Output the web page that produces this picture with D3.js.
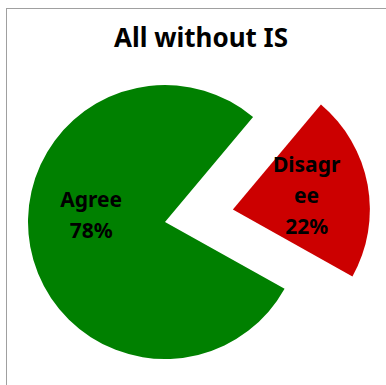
<!DOCTYPE html>
<html>
<head>
<meta charset="utf-8">
<script src="https://cdn.jsdelivr.net/npm/d3@7"></script>
<style>
  html, body { margin: 0; padding: 0; background: #fff; }
  svg { display: block; }
</style>
</head>
<body>
<div class="containers"></div>
<script>
const categories = ['Agree', 'Disagree']
const shares = [78, 22]
const colors = ['#008000', '#cc0000']
const title = 'All without IS'

const width = 386
const height = 385
const radius = 137
const cx = 165
const cy = 222
const explode = { Agree: 0, Disagree: 69 }
const labelNudge = { Agree: -20, Disagree: 0 } // excel puts the green label a bit higher
const font = '"Noto Sans", "Open Sans", sans-serif'

const data = categories.map((c, i) => ({ name: c, value: shares[i], color: colors[i] }))

const svg = d3
  .select('.containers')
  .append('svg')
  .attr('width', width)
  .attr('height', height)

// chart frame
svg
  .append('rect')
  .attr('x', 6.5)
  .attr('y', 8.5)
  .attr('width', 420)
  .attr('height', 420)
  .attr('fill', '#fff')
  .attr('stroke', '#a0a0a0')
  .attr('stroke-width', 1)

svg
  .append('text')
  .attr('x', 201)
  .attr('y', 47)
  .attr('text-anchor', 'middle')
  .attr('font-family', font)
  .attr('font-weight', 'bold')
  .attr('font-size', 26)
  .attr('fill', '#000')
  .text(title)

const startAngle = (119.2 * Math.PI) / 180
const pie = d3
  .pie()
  .sort(null)
  .value(d => d.value)
  .startAngle(startAngle)
  .endAngle(startAngle + 2 * Math.PI)

const arcs = pie(data)
const arc = d3.arc().innerRadius(0).outerRadius(radius)
const labelArc = d3.arc().innerRadius(75).outerRadius(75)

const offset = d => {
  const mid = (d.startAngle + d.endAngle) / 2
  const e = explode[d.data.name]
  return [Math.sin(mid) * e, -Math.cos(mid) * e]
}

const g = svg
  .append('g')
  .attr('transform', `translate(${cx},${cy})`)
  .selectAll('g')
  .data(arcs)
  .join('g')
  .attr('transform', d => `translate(${offset(d)})`)

g
  .append('path')
  .attr('d', arc)
  .attr('fill', d => d.data.color)

// excel wraps the long category name inside the slice
const wrap = (s, n) => {
  const out = []
  for (let i = 0; i < s.length; i += n) out.push(s.slice(i, i + n))
  return out
}

const lineH = 31
g
  .append('text')
  .attr('text-anchor', 'middle')
  .attr('font-family', font)
  .attr('font-weight', 'bold')
  .attr('font-size', 21)
  .attr('fill', '#000')
  .each(function (d) {
    const lines = wrap(d.data.name, 6).concat([d.data.value + '%'])
    const [x, y] = labelArc.centroid(d)
    const y0 = y + labelNudge[d.data.name] - ((lines.length - 1) * lineH) / 2 + 7
    d3.select(this)
      .selectAll('tspan')
      .data(lines)
      .join('tspan')
      .attr('x', x)
      .attr('y', (t, i) => y0 + i * lineH)
      .text(t => t)
  })
</script>
</body>
</html>
